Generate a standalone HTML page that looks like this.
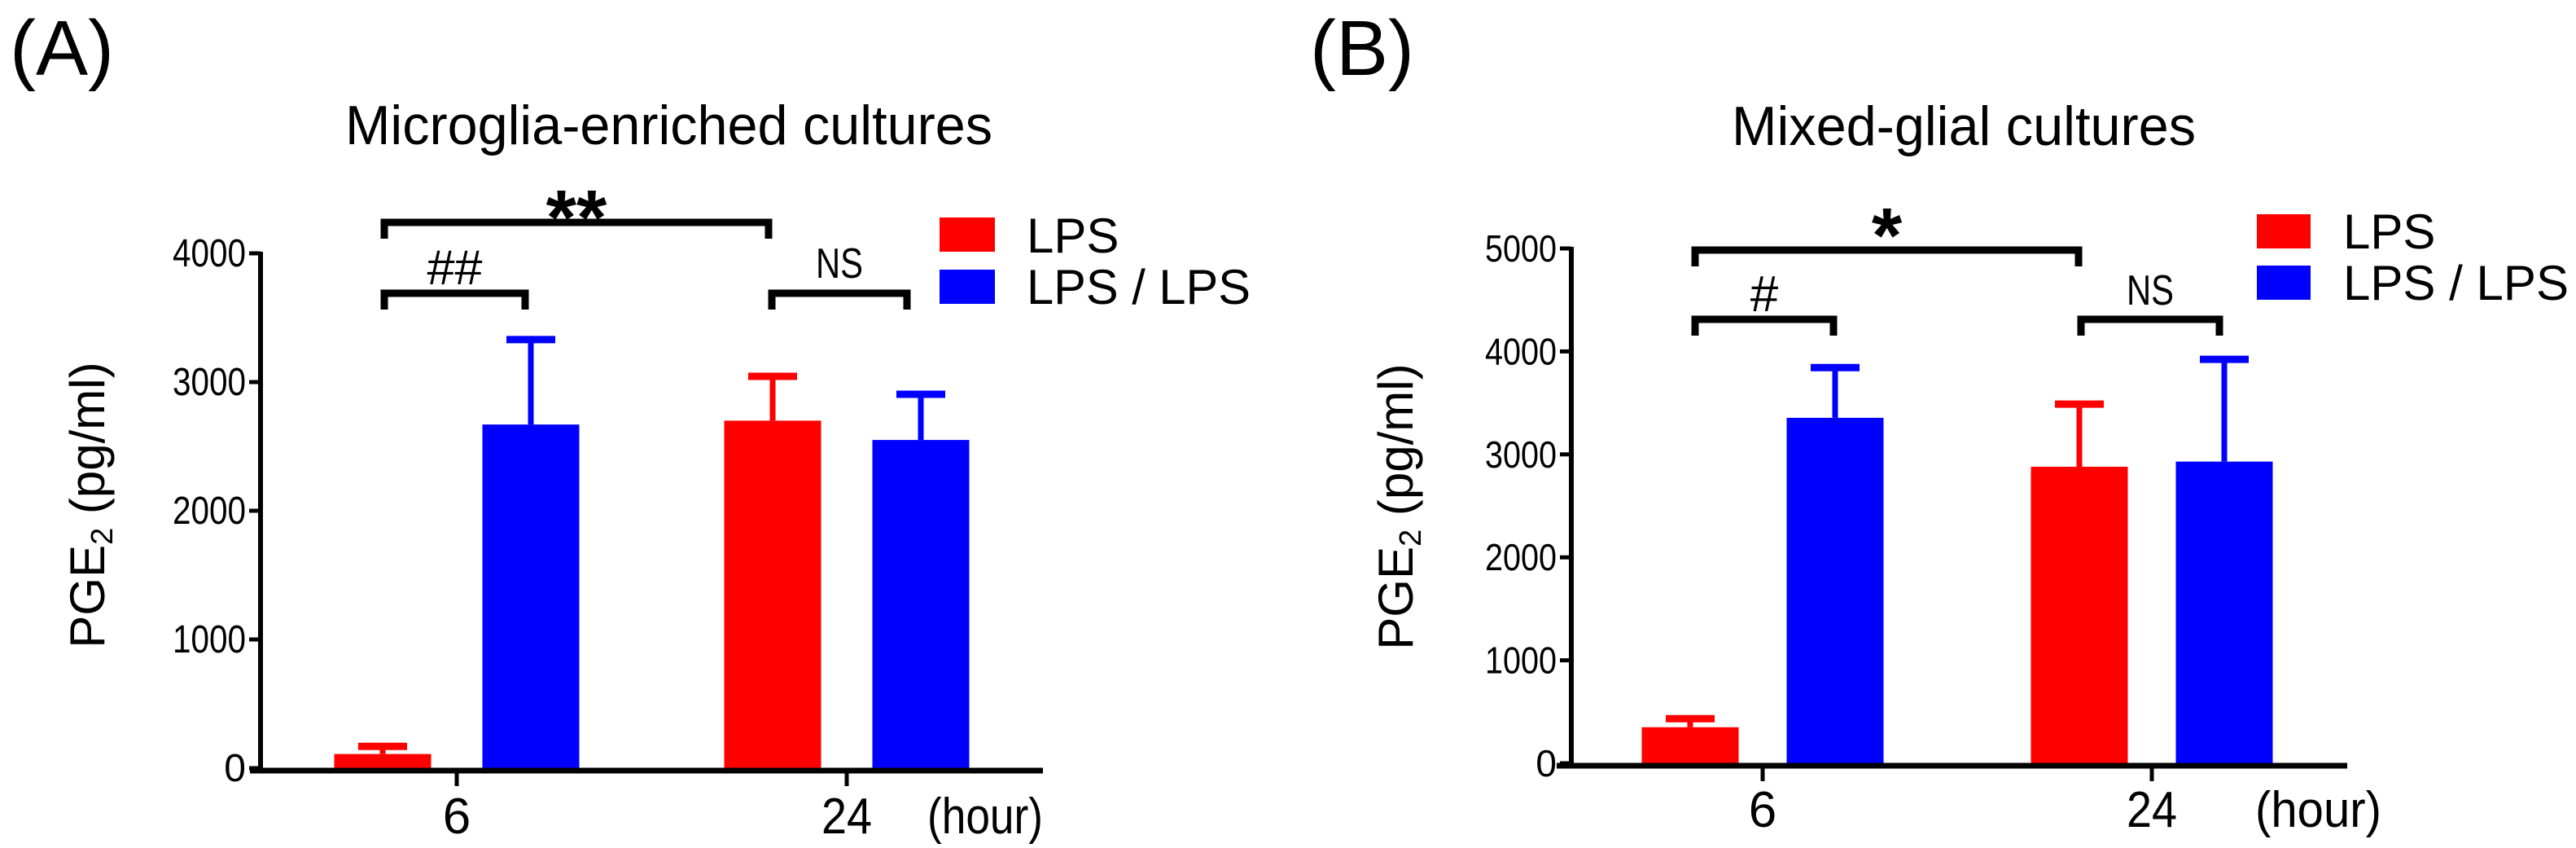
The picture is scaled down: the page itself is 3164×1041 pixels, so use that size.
<!DOCTYPE html>
<html><head><meta charset="utf-8"><style>
html,body{margin:0;padding:0;background:#fff;}
svg{display:block;font-family:"Liberation Sans",Arial,sans-serif;}
</style></head><body>
<svg id="fig" width="3164" height="1041" viewBox="0 0 3164 1041" xmlns="http://www.w3.org/2000/svg">
<text x="12" y="92" font-size="96">(A)</text>
<text x="1609" y="92" font-size="96">(B)</text>
<text x="424" y="177" font-size="68" textLength="795" lengthAdjust="spacingAndGlyphs">Microglia-enriched cultures</text>
<text x="2127" y="178" font-size="68" textLength="570" lengthAdjust="spacingAndGlyphs">Mixed-glial cultures</text>
<g>
<rect x="1154" y="267" width="68" height="42" fill="#ff0000"/>
<rect x="1154" y="331" width="68" height="42" fill="#0000ff"/>
<text x="1261" y="310" font-size="60">LPS</text>
<text x="1261" y="373" font-size="60" textLength="275" lengthAdjust="spacingAndGlyphs">LPS / LPS</text>
</g>
<g>
<rect x="2772" y="263" width="66" height="42" fill="#ff0000"/>
<rect x="2772" y="326" width="66" height="42" fill="#0000ff"/>
<text x="2878" y="305" font-size="60">LPS</text>
<text x="2878" y="368" font-size="60" textLength="277" lengthAdjust="spacingAndGlyphs">LPS / LPS</text>
</g>
</svg>
<script>
// Panel A data
const aCategories = ["6", "24"];
const aLpsValues = [110, 2700];
const aLpsErrors = [85, 370];
const aLpsLpsValues = [2670, 2550];
const aLpsLpsErrors = [685, 380];
const aTicks = [0, 1000, 2000, 3000, 4000];
// Panel B data
const bCategories = ["6", "24"];
const bLpsValues = [350, 2880];
const bLpsErrors = [115, 640];
const bLpsLpsValues = [3355, 2930];
const bLpsLpsErrors = [520, 1025];
const bTicks = [0, 1000, 2000, 3000, 4000, 5000];

const NS = "http://www.w3.org/2000/svg";
const svg = document.getElementById('fig');
function mk(tag, attrs, parent){
  const e = document.createElementNS(NS, tag);
  for (const k in attrs) e.setAttribute(k, attrs[k]);
  (parent||svg).appendChild(e);
  return e;
}
function panel(p){
  const g = mk('g', {});
  
  
  const y = v => p.y0 - (v - 0) * (p.y0 - p.yTop) / p.yMax;
  const xc = i => p.catX[i];
  const series = [[p.lps, p.lpsErr, '#ff0000', 'lps'], [p.lpsl, p.lpslErr, '#0000ff', 'lps-lps']];
  series.forEach((s, si) => {
    s[0].forEach((v, i) => {
      const cx = xc(i) + (si === 0 ? -p.off : p.off);
      const top = y(v);
      const r = mk('rect', {x: cx - p.bw/2, y: top, width: p.bw, height: p.y0 - top, fill: s[2]}, g);
      
      
      const et = y(v + s[1][i]);
      const l = mk('line', {x1: cx, x2: cx, y1: top, y2: et, stroke: s[2], 'stroke-width': 7}, g);
      
      
      const c = mk('line', {x1: cx - 30, x2: cx + 30, y1: et + 4, y2: et + 4, stroke: s[2], 'stroke-width': 9}, g);
      
      
    });
  });
  const ya = mk('line', {x1: p.axX, x2: p.axX, y1: y(p.yMax) - 2, y2: p.y0, stroke: '#000', 'stroke-width': 6}, g);
  
  
  p.ticks.forEach(t => {
    const tl = mk('line', {x1: p.axX - 14, x2: p.axX, y1: y(t), y2: y(t), stroke: '#000', 'stroke-width': 5}, g);
    
    
    const tx = mk('text', {x: p.axX - 18, y: y(t) + 16, 'font-size': p.tickFont, 'text-anchor': 'end'}, g);
    if (String(t).length === 4) { tx.setAttribute('textLength', p.tickW); tx.setAttribute('lengthAdjust', 'spacingAndGlyphs'); }
    tx.textContent = t;
    
    
  });
  const xa = mk('line', {x1: p.xStart, x2: p.xEnd, y1: p.y0 + 3, y2: p.y0 + 3, stroke: '#000', 'stroke-width': 7}, g);
  
  
  p.cats.forEach((c, i) => {
    const tl = mk('line', {x1: xc(i), x2: xc(i), y1: p.y0, y2: p.y0 + 22, stroke: '#000', 'stroke-width': 5}, g);
    
    
    const tx = mk('text', {x: xc(i), y: p.xlabY, 'font-size': 62, 'text-anchor': 'middle'}, g);
    if (c.length === 2) { tx.setAttribute('textLength', 62); tx.setAttribute('lengthAdjust', 'spacingAndGlyphs'); }
    tx.textContent = c;
    
    
  });
  const hr = mk('text', {x: p.hourX, y: p.xlabY, 'font-size': 62, textLength: p.hourW, lengthAdjust: 'spacingAndGlyphs'}, g);
  hr.textContent = '(hour)';
  
  
  const yt = mk('text', {x: 0, y: 0, 'font-size': 60, 'text-anchor': 'middle', transform: 'translate(' + p.ytX + ',' + p.ytY + ') rotate(-90)'}, g);
  yt.innerHTML = 'PGE<tspan font-size="38" dy="10">2</tspan><tspan dy="-10"> (pg/ml)</tspan>';
  
  
  p.brackets.forEach(b => {
    const bg = mk('path', {d: 'M' + b.x1 + ' ' + (b.y + 20) + ' V' + b.y + ' H' + b.x2 + ' V' + (b.y + 20), fill: 'none', stroke: '#000', 'stroke-width': 9}, g);
    
    
    const bt = mk('text', {x: (b.x1 + b.x2)/2, y: b.ty, 'font-size': b.fs, 'text-anchor': 'middle', 'font-weight': b.bold ? 'bold' : 'normal'}, g);
    if (b.tl) { bt.setAttribute('textLength', b.tl); bt.setAttribute('lengthAdjust', 'spacingAndGlyphs'); }
    bt.textContent = b.label;
    
    
  });
}
panel({id: 'panel-a', cats: aCategories, lps: aLpsValues, lpsErr: aLpsErrors, lpsl: aLpsLpsValues, lpslErr: aLpsLpsErrors,
  ticks: aTicks, yMax: 4000, y0: 943, yTop: 311, axX: 320, catX: [561, 1040], off: 91, bw: 119,
  xStart: 307, xEnd: 1281, xlabY: 1023, hourX: 1139, hourW: 142, tickFont: 48, tickW: 90, ytX: 128, ytY: 620,
  brackets: [
    {x1: 472, x2: 944, y: 273, label: '**', ty: 300, fs: 96, bold: true},
    {x1: 472, x2: 645, y: 360, label: '##', ty: 349, fs: 60, tl: 68},
    {x1: 948, x2: 1114, y: 360, label: 'NS', ty: 341, fs: 52, tl: 58}
  ]});
panel({id: 'panel-b', cats: bCategories, lps: bLpsValues, lpsErr: bLpsErrors, lpsl: bLpsLpsValues, lpslErr: bLpsLpsErrors,
  ticks: bTicks, yMax: 5000, y0: 937, yTop: 305, axX: 1930, catX: [2165, 2643], off: 89, bw: 119,
  xStart: 1912, xEnd: 2883, xlabY: 1015, hourX: 2770, hourW: 155, tickFont: 46, tickW: 88, ytX: 1735, ytY: 622,
  brackets: [
    {x1: 2082, x2: 2553, y: 307, label: '*', ty: 322, fs: 96, bold: true},
    {x1: 2082, x2: 2252, y: 392, label: '#', ty: 382, fs: 62},
    {x1: 2556, x2: 2726, y: 392, label: 'NS', ty: 374, fs: 52, tl: 58}
  ]});
</script>
</body></html>
